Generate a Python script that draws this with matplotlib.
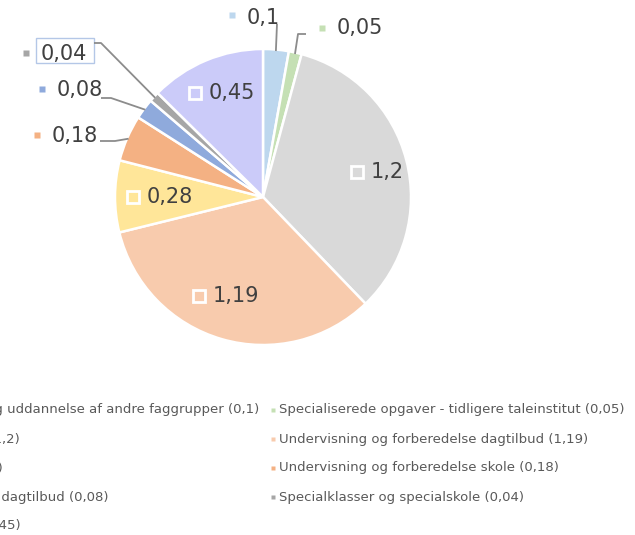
import matplotlib
matplotlib.use("Agg")
import matplotlib.pyplot as plt
from matplotlib.patches import Rectangle
import numpy as np

# slice data, clockwise from 12 o'clock
names = [
    "Supervision og uddannelse af andre faggrupper",
    "Specialiserede opgaver - tidligere taleinstitut",
    "Specialundervisning",
    "Undervisning og forberedelse dagtilbud",
    "Rådgivning",
    "Undervisning og forberedelse skole",
    "Specialundervisning dagtilbud",
    "Specialklasser og specialskole",
    "Andre opgaver",
]
values = [0.1, 0.05, 1.2, 1.19, 0.28, 0.18, 0.08, 0.04, 0.45]
colors = ["#BDD7EE", "#C5E0B4", "#D9D9D9", "#F8CBAD", "#FFE699",
          "#F4B183", "#8FAADC", "#A6A6A6", "#CBCBF9"]

def fmt(v):
    return f"{v:g}".replace(".", ",")

W, H = 635, 535
fig = plt.figure(figsize=(W / 100, H / 100), dpi=100)
ax = fig.add_axes([0, 0, 1, 1])

def fy(y):
    return H - y

wedges, _ = ax.pie(values, colors=colors, startangle=90, counterclock=False,
                   center=(263, fy(197)), radius=148,
                   wedgeprops=dict(edgecolor="white", linewidth=1.8))
ax.set_xlim(0, W)
ax.set_ylim(0, H)
ax.axis("off")

lab_col = "#404040"
fs = 15

def edge_point(w, frac=1.0):
    mid = np.radians((w.theta1 + w.theta2) / 2)
    cx, cy = w.center
    return cx + w.r * frac * np.cos(mid), cy + w.r * frac * np.sin(mid)

# inside labels: (slice index, marker x, y from top)
inside = [(2, 357, 172), (3, 199, 296), (4, 133, 197), (8, 195, 93)]
for i, mx, my in inside:
    ax.plot(mx, fy(my), marker="s", ms=8, mfc=colors[i], mec="white", mew=2)
    ax.text(mx + 14, fy(my), fmt(values[i]), fontsize=fs, color=lab_col,
            va="center", ha="left")

# outside labels: (index, marker x, marker y, text y, leader path after the wedge edge)
outside = [
    (0, 232, 15, 18, [(277, 24)]),
    (1, 322, 28, 28, [(298, 34), (306, 34)]),
    (7, 26, 53, 54, [(101, 43), (94, 43)]),
    (6, 42, 89, 90, [(111, 98), (101, 98)]),
    (5, 37, 135, 136, [(115, 141), (100, 141)]),
]
for i, mx, my, ty, path in outside:
    ax.plot(mx, fy(my), marker="s", ms=4.5, mfc=colors[i], mec="none")
    ax.text(mx + 15, fy(ty), fmt(values[i]), fontsize=fs, color=lab_col,
            va="center", ha="left")
    ex, ey = edge_point(wedges[i], 0.99)
    xs = [ex] + [p[0] for p in path]
    ys = [ey] + [fy(p[1]) for p in path]
    ax.plot(xs, ys, color="#8C8C8C", lw=1.3, solid_capstyle="butt")
    if i == 7:
        ax.add_patch(Rectangle((36, fy(63)), 58, 25, fill=False,
                               edgecolor="#B4C7E7", lw=1.0))

# legend, two columns; the left column runs off the left edge as in the source
leg_col = "#595959"
lfs = 9.5
row_y = [410, 439, 468, 497, 526]
left_end = [259, 20, 3, 109, 21]
for k, i in enumerate(range(0, len(values), 2)):
    ax.text(left_end[k], fy(row_y[k]), f"{names[i]} ({fmt(values[i])})",
            fontsize=lfs, color=leg_col, va="center", ha="right")
for k, i in enumerate(range(1, len(values), 2)):
    ax.plot(273, fy(row_y[k]), marker="s", ms=3.2, mfc=colors[i], mec="none")
    ax.text(279, fy(row_y[k]), f"{names[i]} ({fmt(values[i])})",
            fontsize=lfs, color=leg_col, va="center", ha="left")

fig.savefig("out.png", dpi=100)
